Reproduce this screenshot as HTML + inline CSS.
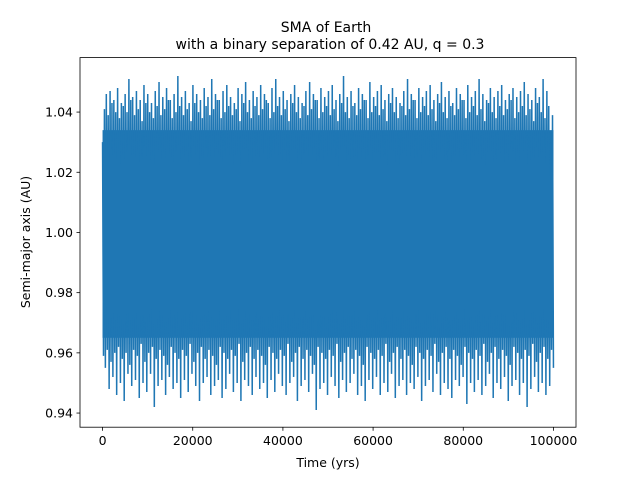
<!DOCTYPE html>
<html><head><meta charset="utf-8"><style>
body{margin:0;background:#fff}
svg text{font-family:"DejaVu Sans","Liberation Sans",sans-serif;fill:#000}
</style></head><body>
<svg width="640" height="480" xmlns="http://www.w3.org/2000/svg">
<rect width="640" height="480" fill="#fff"/>
<g id="plot"></g>
<g id="axes"></g>
<text x="326" y="32" font-size="14" text-anchor="middle">SMA of Earth</text>
<text x="330" y="49" font-size="14" text-anchor="middle">with a binary separation of 0.42 AU, q = 0.3</text>
<text x="328" y="467" font-size="12.5" text-anchor="middle">Time (yrs)</text>
<text x="30" y="242" font-size="12.5" text-anchor="middle" transform="rotate(-90 30 242)">Semi-major axis (AU)</text>
</svg>
<script>
const highs=[1.030,1.046,1.047,1.044,1.048,1.043,1.046,1.051,1.045,1.047,1.044,1.049,1.046,1.043,1.047,1.050,1.045,1.048,1.044,1.046,
1.052,1.045,1.047,1.043,1.049,1.046,1.044,1.048,1.045,1.051,1.046,1.044,1.047,1.049,1.045,1.043,1.048,1.046,1.050,1.044,
1.047,1.045,1.049,1.046,1.043,1.048,1.051,1.045,1.047,1.044,1.046,1.049,1.045,1.043,1.047,1.050,1.046,1.044,1.048,1.045,
1.047,1.049,1.044,1.046,1.052,1.045,1.047,1.043,1.048,1.046,1.044,1.050,1.045,1.047,1.049,1.044,1.046,1.048,1.045,1.043,
1.047,1.051,1.046,1.044,1.048,1.045,1.047,1.049,1.044,1.046,1.050,1.045,1.047,1.043,1.048,1.046,1.044,1.049,1.045,1.047,
1.051,1.046,1.044,1.048,1.045,1.047,1.049,1.044,1.046,1.048,1.045,1.047,1.050,1.046,1.044,1.048,1.045,1.051,1.047,1.030];
const lows=[0.955,0.948,0.952,0.946,0.950,0.944,0.953,0.949,0.951,0.945,0.950,0.947,0.953,0.942,0.949,0.951,0.946,0.952,0.948,0.950,
0.945,0.951,0.947,0.953,0.949,0.944,0.950,0.952,0.946,0.949,0.951,0.945,0.948,0.953,0.947,0.950,0.944,0.951,0.949,0.946,
0.952,0.948,0.950,0.945,0.951,0.947,0.953,0.949,0.946,0.950,0.952,0.944,0.949,0.951,0.947,0.953,0.941,0.948,0.950,0.946,
0.952,0.949,0.945,0.951,0.947,0.950,0.953,0.946,0.949,0.944,0.951,0.948,0.952,0.946,0.950,0.947,0.953,0.945,0.949,0.951,
0.946,0.950,0.948,0.952,0.944,0.949,0.951,0.947,0.953,0.946,0.950,0.948,0.945,0.951,0.949,0.952,0.943,0.950,0.947,0.951,
0.946,0.949,0.953,0.945,0.950,0.948,0.952,0.944,0.949,0.951,0.946,0.950,0.942,0.948,0.952,0.947,0.950,0.946,0.949,0.955];
const highsB=[1.041,1.039,1.043,1.040,1.038,1.042,1.040,1.044,1.039,1.041,1.037,1.043,1.040,1.038,1.042,1.039,1.041,1.044,1.038,1.040,
1.042,1.039,1.041,1.037,1.043,1.040,1.038,1.042,1.039,1.041,1.044,1.038,1.040,1.042,1.039,1.041,1.037,1.043,1.040,1.038,
1.042,1.039,1.041,1.044,1.038,1.040,1.042,1.039,1.041,1.037,1.043,1.040,1.038,1.042,1.039,1.041,1.044,1.038,1.040,1.042,
1.039,1.041,1.037,1.043,1.040,1.038,1.042,1.039,1.041,1.044,1.038,1.040,1.042,1.039,1.041,1.037,1.043,1.040,1.038,1.042,
1.039,1.041,1.044,1.038,1.040,1.042,1.039,1.041,1.037,1.043,1.040,1.038,1.042,1.039,1.041,1.044,1.038,1.040,1.042,1.039,
1.041,1.037,1.043,1.040,1.038,1.042,1.039,1.041,1.044,1.038,1.040,1.042,1.039,1.041,1.037,1.043,1.040,1.038,1.042,1.039];
const lowsB=[0.959,0.961,0.957,0.960,0.962,0.958,0.960,0.956,0.961,0.959,0.963,0.957,0.960,0.962,0.958,0.961,0.959,0.956,0.962,0.960,
0.958,0.961,0.959,0.963,0.957,0.960,0.962,0.958,0.961,0.959,0.956,0.962,0.960,0.958,0.961,0.959,0.963,0.957,0.960,0.962,
0.958,0.961,0.959,0.956,0.962,0.960,0.958,0.961,0.959,0.963,0.957,0.960,0.962,0.958,0.961,0.959,0.956,0.962,0.960,0.958,
0.961,0.959,0.963,0.957,0.960,0.962,0.958,0.961,0.959,0.956,0.962,0.960,0.958,0.961,0.959,0.963,0.957,0.960,0.962,0.958,
0.961,0.959,0.956,0.962,0.960,0.958,0.961,0.959,0.963,0.957,0.960,0.962,0.958,0.961,0.959,0.956,0.962,0.960,0.958,0.961,
0.959,0.963,0.957,0.960,0.962,0.958,0.961,0.959,0.956,0.962,0.960,0.958,0.961,0.959,0.963,0.957,0.960,0.962,0.958,0.961];
const tMax=100000;
const xTicks=[0,20000,40000,60000,80000,100000];
const yTicks=[0.94,0.96,0.98,1.00,1.02,1.04];
const yTickLabels=["0.94","0.96","0.98","1.00","1.02","1.04"];
const L=80,R=576,T=57.6,B=427.2;
const xmin=-5000,xmax=105000,ymin=0.9353,ymax=1.0581;
const sx=v=>L+(v-xmin)/(xmax-xmin)*(R-L);
const sy=v=>B-(v-ymin)/(ymax-ymin)*(B-T);
const NS="http://www.w3.org/2000/svg";
const plot=document.getElementById('plot'),axes=document.getElementById('axes');
const band=document.createElementNS(NS,'rect');


band.setAttribute('x',sx(0));band.setAttribute('width',sx(tMax)-sx(0));
band.setAttribute('y',sy(1.034));band.setAttribute('height',sy(0.965)-sy(1.034));
band.setAttribute('fill','#1f77b4');plot.appendChild(band);
let pts=[];const n=highs.length;const m=4*n-1;
for(let i=0;i<n;i++){
 pts.push(sx(tMax*(4*i)/m).toFixed(2)+','+sy(highs[i]).toFixed(2));
 pts.push(sx(tMax*(4*i+1)/m).toFixed(2)+','+sy(lowsB[i]).toFixed(2));
 pts.push(sx(tMax*(4*i+2)/m).toFixed(2)+','+sy(highsB[i]).toFixed(2));
 pts.push(sx(tMax*(4*i+3)/m).toFixed(2)+','+sy(lows[i]).toFixed(2));
}
const line=document.createElementNS(NS,'polyline');


line.setAttribute('points',pts.join(' '));
line.setAttribute('fill','none');line.setAttribute('stroke','#1f77b4');line.setAttribute('stroke-width','1.5');
plot.appendChild(line);
const frame=document.createElementNS(NS,'rect');


frame.setAttribute('x',L);frame.setAttribute('y',T);frame.setAttribute('width',R-L);frame.setAttribute('height',B-T);
frame.setAttribute('fill','none');frame.setAttribute('stroke','#000');frame.setAttribute('stroke-width','0.8');
axes.appendChild(frame);
xTicks.forEach(v=>{
 const x=sx(v);
 const tk=document.createElementNS(NS,'line');
 
 
 tk.setAttribute('x1',x);tk.setAttribute('x2',x);tk.setAttribute('y1',B);tk.setAttribute('y2',B+3.5);tk.setAttribute('stroke','#000');tk.setAttribute('stroke-width','0.8');
 axes.appendChild(tk);
 const tx=document.createElementNS(NS,'text');
 
 
 tx.setAttribute('x',x);tx.setAttribute('y',B+18);tx.setAttribute('font-size','12.5');tx.setAttribute('text-anchor','middle');
 tx.textContent=String(v);axes.appendChild(tx);
});
yTicks.forEach((v,i)=>{
 const y=sy(v);
 const tk=document.createElementNS(NS,'line');
 
 
 tk.setAttribute('x1',L-3.5);tk.setAttribute('x2',L);tk.setAttribute('y1',y);tk.setAttribute('y2',y);tk.setAttribute('stroke','#000');tk.setAttribute('stroke-width','0.8');
 axes.appendChild(tk);
 const tx=document.createElementNS(NS,'text');
 
 
 tx.setAttribute('x',L-7);tx.setAttribute('y',y+4.5);tx.setAttribute('font-size','12.5');tx.setAttribute('text-anchor','end');
 tx.textContent=yTickLabels[i];axes.appendChild(tx);
});
</script>
</body></html>
